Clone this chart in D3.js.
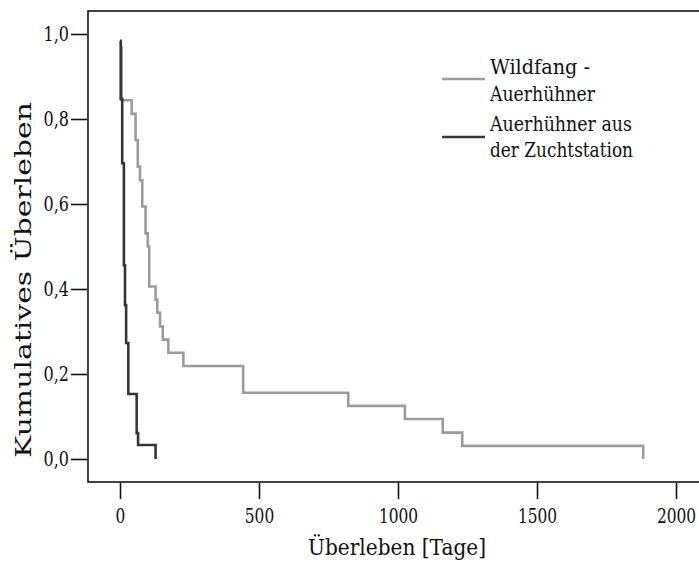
<!DOCTYPE html>
<html>
<head>
<meta charset="utf-8">
<script src="https://cdn.jsdelivr.net/npm/d3@7"></script>
<style>
  body { margin: 0; background: #fff; }
  svg { display: block; }
  svg text { font-family: "DejaVu Serif", serif; }
</style>
</head>
<body>
<div id="chart"></div>
<script>
// Kaplan-Meier Kurven, Ueberleben in Tagen
const wildDays = [0, 6, 42, 56, 64, 72, 80, 92, 100, 105, 128, 134, 144, 154, 174, 228, 443, 821, 1025, 1161, 1231, 1882];
const wildSurv = [0.969, 0.844, 0.812, 0.75, 0.688, 0.656, 0.594, 0.531, 0.5, 0.406, 0.375, 0.344, 0.312, 0.281, 0.25, 0.219, 0.156, 0.125, 0.094, 0.062, 0.031, 0];

const zuchtDays = [0, 2.5, 8, 14, 18, 22, 30, 60, 65, 128];
const zuchtSurv = [0.984, 0.847, 0.696, 0.456, 0.362, 0.273, 0.153, 0.061, 0.033, 0];

const xTicks = [0, 500, 1000, 1500, 2000];
const yTicks = [0, 0.2, 0.4, 0.6, 0.8, 1.0];
const seriesNames = [["Wildfang -", "Auerhühner"], ["Auerhühner aus", "der Zuchtstation"]];
const seriesColors = ["#9b9b9b", "#353535"];

const width = 699, height = 561;
const frame = {left: 88, top: 11, bottom: 482, right: 730};

var x = d3.scaleLinear()
    .domain([0, 2000])
    .range([120, 676]);

var y = d3.scaleLinear()
    .domain([0, 1])
    .range([459, 34]);

const fmt = d3.formatLocale({decimal: ",", thousands: ".", grouping: [3], currency: ["", ""]}).format(".1f");

// DejaVu Serif ist breiter als Times -> etwas zusammenschieben
function squeeze(sel, k) {
    sel.each(function() {
        var w = this.getComputedTextLength();
        d3.select(this).attr("textLength", w * k).attr("lengthAdjust", "spacingAndGlyphs");
    });
}

var svg = d3.select("#chart").append("svg")
    .attr("width", width)
    .attr("height", height);

// rahmen
svg.append("rect")
    .attr("x", frame.left)
    .attr("y", frame.top)
    .attr("width", frame.right - frame.left)
    .attr("height", frame.bottom - frame.top)
    .attr("fill", "none")
    .attr("stroke", "#111")
    .attr("stroke-width", 1.6);

var xAxis = svg.append("g")
    .attr("transform", "translate(0," + (frame.bottom + 1) + ")")
    .call(d3.axisBottom(x).tickValues(xTicks).tickSize(16).tickPadding(10).tickFormat(d3.format("d")));

var yAxis = svg.append("g")
    .attr("transform", "translate(" + (frame.left - 1) + ",0)")
    .call(d3.axisLeft(y).tickValues(yTicks).tickSize(16).tickPadding(2).tickFormat(fmt));

[xAxis, yAxis].forEach(function(a, i) {
    a.attr("font-family", null).attr("font-size", null);
    a.select(".domain").remove();
    a.selectAll(".tick line").attr("stroke", "#111").attr("stroke-width", 1.6);
    a.selectAll(".tick text").attr("fill", "#111").style("font-size", "20px")
        .call(squeeze, i == 0 ? 0.77 : 0.8);
});

svg.append("text")
    .attr("x", 397)
    .attr("y", 555)
    .attr("text-anchor", "middle")
    .attr("fill", "#111")
    .style("font-size", "23px")
    .attr("textLength", 178)
    .attr("lengthAdjust", "spacingAndGlyphs")
    .text("Überleben [Tage]");

svg.append("text")
    .attr("transform", "translate(31,280) rotate(-90)")
    .attr("text-anchor", "middle")
    .attr("fill", "#111")
    .style("font-size", "23px")
    .attr("textLength", 356)
    .attr("lengthAdjust", "spacingAndGlyphs")
    .text("Kumulatives Überleben");

var line = d3.line()
    .x(function(d) { return x(d[0]) })
    .y(function(d) { return y(d[1]) })
    .curve(d3.curveStepAfter);

const series = [d3.zip(wildDays, wildSurv), d3.zip(zuchtDays, zuchtSurv)];

svg.selectAll("path.km")
    .data(series)
    .enter()
    .append("path")
    .attr("class", "km")
    .attr("d", line)
    .attr("fill", "none")
    .attr("stroke", function(d, i) { return seriesColors[i] })
    .attr("stroke-width", 2.6);

// legende
const legY = [79, 137];
const legTextY = [[74, 101], [131, 157]];
const legTextW = [[100, 105], [142, 143]];
var leg = svg.append("g");
seriesNames.forEach(function(names, i) {
    leg.append("line")
        .attr("x1", 442).attr("x2", 485)
        .attr("y1", legY[i]).attr("y2", legY[i])
        .attr("stroke", seriesColors[i])
        .attr("stroke-width", 2.6);
    names.forEach(function(n, j) {
        leg.append("text")
            .attr("x", 490)
            .attr("y", legTextY[i][j])
            .attr("fill", "#111")
            .style("font-size", "21px")
            .attr("textLength", legTextW[i][j])
            .attr("lengthAdjust", "spacingAndGlyphs")
            .text(n);
    });
});
</script>
</body>
</html>
